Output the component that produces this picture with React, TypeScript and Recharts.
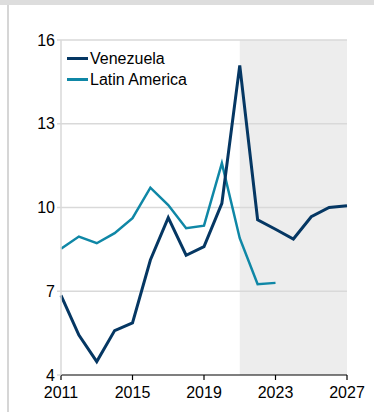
import { Line, LineChart, ReferenceArea, ReferenceLine, XAxis, YAxis } from "recharts";

const NAVY = "#053763";
const TEAL = "#0f87a6";
const GRID = "#d9d9d9";
const SHADE = "#ededed";
const FONT = "'Liberation Sans', Arial, sans-serif";

const years = [2011, 2012, 2013, 2014, 2015, 2016, 2017, 2018, 2019, 2020, 2021, 2022, 2023, 2024, 2025, 2026, 2027];
const venezuela = [6.85, 5.43, 4.48, 5.59, 5.87, 8.12, 9.64, 8.29, 8.6, 10.15, 15.09, 9.56, 9.22, 8.87, 9.67, 10.0, 10.06];
const latinAmerica = [8.52, 8.96, 8.72, 9.08, 9.62, 10.71, 10.09, 9.26, 9.35, 11.59, 8.9, 7.25, 7.3, null, null, null, null];

const xTicks = [2011, 2015, 2019, 2023, 2027];
const yTicks = [4, 7, 10, 13, 16];
const forecastFrom = 2021;

const data = years.map((year, i) => ({
  year,
  Venezuela: venezuela[i],
  "Latin America": latinAmerica[i],
}));

const legendItems = [
  { name: "Venezuela", color: NAVY },
  { name: "Latin America", color: TEAL },
];

// legend sits inside the plot, top-left
function LegendBox() {
  return (
    <div style={{ position: "absolute", left: 67, top: 48, fontFamily: FONT, fontSize: 16, color: "#000" }}>
      {legendItems.map((it) => (
        <div key={it.name} style={{ display: "flex", alignItems: "center", height: 21 }}>
          <span style={{ width: 21, height: 3, background: it.color, marginRight: 2 }} />
          <span>{it.name}</span>
        </div>
      ))}
    </div>
  );
}

export default function App() {
  return (
    <div style={{ position: "absolute", left: 0, top: 0, width: 374, height: 412, background: "#fff" }}>
      <div style={{ position: "absolute", left: 0, top: 0, width: 374, height: 5, background: "#dddddd" }} />
      <div style={{ position: "absolute", left: 7, top: 5, width: 2, height: 407, background: "#d6d6d6" }} />
      <div style={{ position: "absolute", left: 0, top: 0 }}>
        <LineChart width={374} height={412} data={data} margin={{ top: 40, right: 27, bottom: 7, left: 0 }}>
          <ReferenceArea x1={forecastFrom} x2={2027} y1={4} y2={16} fill={SHADE} fillOpacity={1} stroke="none" />
          {yTicks.slice(1).map((t) => (
            <ReferenceLine key={t} y={t} stroke={GRID} strokeWidth={1.5} />
          ))}
          <XAxis
            dataKey="year"
            type="number"
            domain={[2011, 2027]}
            ticks={xTicks}
            height={30}
            axisLine={{ stroke: "#000", strokeWidth: 1.2 }}
            tickLine={{ stroke: "#000", strokeWidth: 1.2 }}
            tickSize={5}
            tick={{ fontSize: 16, fill: "#000", fontFamily: FONT, dy: 5 }}
          />
          <YAxis
            type="number"
            domain={[4, 16]}
            ticks={yTicks}
            width={61}
            axisLine={{ stroke: GRID, strokeWidth: 1.5 }}
            tickLine={{ stroke: GRID, strokeWidth: 1.5 }}
            tickSize={4}
            tick={{ fontSize: 16, fill: "#000", fontFamily: FONT }}
          />
          <Line
            dataKey="Latin America"
            stroke={TEAL}
            strokeWidth={2.5}
            dot={false}
            type="linear"
            isAnimationActive={false}
          />
          <Line
            dataKey="Venezuela"
            stroke={NAVY}
            strokeWidth={3}
            dot={false}
            type="linear"
            isAnimationActive={false}
          />
        </LineChart>
      </div>
      <LegendBox />
    </div>
  );
}
